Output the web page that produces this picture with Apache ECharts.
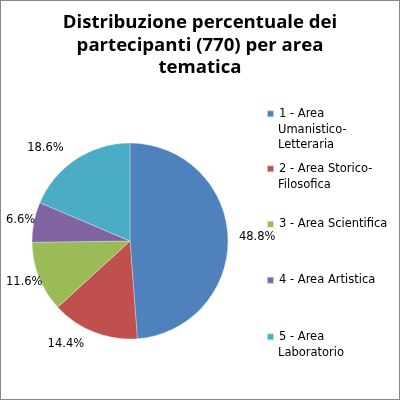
<!DOCTYPE html>
<html><head><meta charset="utf-8">
<script src="https://cdn.jsdelivr.net/npm/echarts@6/dist/echarts.min.js"></script>
<style>html,body{margin:0;padding:0;background:#fff}#c{width:398px;height:398px;border:1px solid #878787}</style>
</head><body><div id="c"></div>
<script>
var categories = ['1 - Area Umanistico-Letteraria','2 - Area Storico-Filosofica','3 - Area Scientifica','4 - Area Artistica','5 - Area Laboratorio'];
var legendLines = [['1 - Area','Umanistico-','Letteraria'],['2 - Area Storico-','Filosofica'],['3 - Area Scientifica'],['4 - Area Artistica'],['5 - Area','Laboratorio']];
var values = [48.8, 14.4, 11.6, 6.6, 18.6];
var colors = ['#4F81BD','#C0504D','#9BBB59','#8064A2','#4BACC6'];
var titleText = 'Distribuzione percentuale dei\npartecipanti (770) per area\ntematica';

var FONT = 'DejaVu Sans', FS = 11.5, LH = 15.7;
var chart = echarts.init(document.getElementById('c'));
var legendTops = [105, 160, 215.5, 271.5, 328];
var legends = categories.map(function(c,i){
  return {
    orient:'vertical', left:265, top:legendTops[i], data:[c], padding:0,
    icon:'rect', itemWidth:7, itemHeight:7, itemGap:0,
    formatter:function(){return legendLines[i][0];},
    textStyle:{fontFamily:FONT, fontSize:FS, color:'#000', lineHeight:LH}
  };
});
var titles = [{text:titleText, left:'center', top:11, padding:0, textStyle:{fontFamily:'Open Sans', fontWeight:'bold', fontSize:18.6, lineHeight:22.3, color:'#000'}}];
legendLines.forEach(function(lines,i){
  if(lines.length>1){
    titles.push({text:lines.slice(1).join('\n'), left:277, top:legendTops[i]+LH, padding:0,
      textStyle:{fontFamily:FONT, fontSize:FS, fontWeight:'normal', color:'#000', lineHeight:LH}});
  }
});
var edgeAligned = [false,false,true,true,false];
var labelGap = [6,13,13,13,13];
chart.setOption({
  animation:false,
  color: colors,
  title: titles,
  legend: legends,
  series:[{
    type:'pie', center:[129,240], radius:98, startAngle:90, clockwise:true,
    data: categories.map(function(c,i){
      var d = {name:c, value:values[i], labelLine:{length:labelGap[i]}};
      if(edgeAligned[i]) d.label = {alignTo:'edge', edgeDistance:5};
      return d;
    }),
    itemStyle:{borderColor:'rgba(255,255,255,0.6)', borderWidth:0.5},
    label:{show:true, position:'outside', overflow:'none', formatter:function(p){return p.value.toFixed(1)+'%';}, fontFamily:FONT, fontSize:FS, color:'#000'},
    labelLine:{show:false, length:13, length2:0},
    emphasis:{disabled:true}
  }]
});
</script></body></html>
